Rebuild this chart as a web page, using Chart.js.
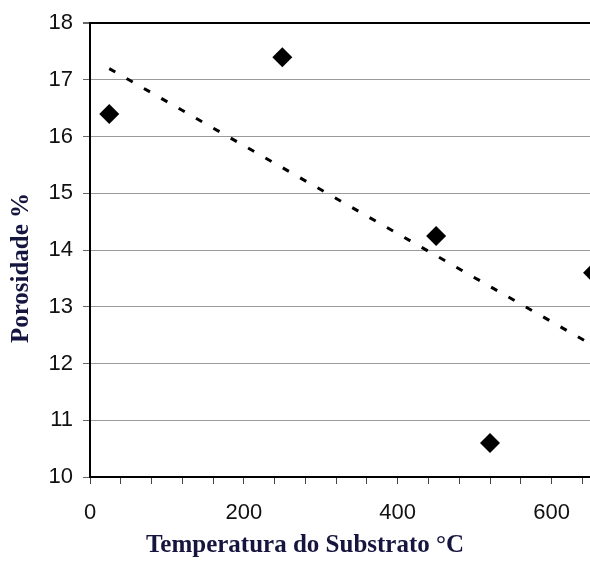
<!DOCTYPE html>
<html>
<head>
<meta charset="utf-8">
<script src="https://cdn.jsdelivr.net/npm/chart.js@4"></script>
<style>
  html, body { margin: 0; padding: 0; background: #fff; overflow: hidden; }
  #myChart { display: block; }
</style>
</head>
<body>
<canvas id="myChart" width="590" height="561"></canvas>
<script>
const temperatura = [25, 250, 450, 520, 654];
const porosidade = [16.4, 17.4, 14.25, 10.6, 13.6];
// linha de tendencia (extremos)
const tendenciaX = [25, 650];
const tendenciaY = [17.2, 12.35];
const xLabels = [0, 200, 400, 600];

const tituloX = 'Temperatura do Substrato \u00B0C';
const tituloY = 'Porosidade %';

const pontos = temperatura.map((t, i) => ({ x: t, y: porosidade[i] }));
const tendencia = tendenciaX.map((t, i) => ({ x: t, y: tendenciaY[i] }));

// titulos dos eixos desenhados a mao pra ficar na mesma posicao do original
const axisTitles = {
    id: 'axisTitles',
    afterDraw(chart) {
        const ctx = chart.ctx;
        ctx.save();
        ctx.fillStyle = '#15153f';
        ctx.font = 'bold 25px "Liberation Serif"';
        ctx.textAlign = 'center';
        ctx.textBaseline = 'middle';
        ctx.fillText(tituloX, 305, 546);
        ctx.translate(22, 268);
        ctx.rotate(-Math.PI / 2);
        ctx.fillText(tituloY, 0, 0);
        ctx.restore();
    }
};

const config = {
    type: 'scatter',
    data: {
        datasets: [
            {
                label: 'Porosidade',
                data: pontos,
                pointStyle: 'rectRot',
                pointRadius: 10,
                pointHoverRadius: 10,
                backgroundColor: '#000',
                borderColor: '#000',
                borderWidth: 0
            },
            {
                label: 'Tendencia',
                data: tendencia,
                showLine: true,
                pointRadius: 0,
                borderColor: '#000',
                borderWidth: 3,
                borderDash: [7, 13]
            }
        ]
    },
    options: {
        responsive: false,
        animation: false,
        layout: { autoPadding: false, padding: { top: 22, right: 0, left: 0, bottom: 0 } },
        plugins: {
            legend: { display: false },
            tooltip: { enabled: false }
        },
        scales: {
            x: {
                type: 'linear',
                min: 0,
                max: 650,
                afterFit: (scale) => {
                    scale.height = 84;
                    scale.paddingLeft = 0;
                    scale.paddingRight = 0;
                },
                border: { color: '#000', width: 2 },
                grid: {
                    drawOnChartArea: false,
                    drawTicks: true,
                    tickLength: 7,
                    tickColor: '#444'
                },
                ticks: {
                    stepSize: 40,
                    includeBounds: false,
                    autoSkip: false,
                    maxRotation: 0,
                    padding: 16,
                    color: '#111',
                    font: { family: '"Liberation Sans", Arial', size: 22 },
                    callback: (v) => xLabels.includes(v) ? String(v) : ''
                }
            },
            y: {
                min: 10,
                max: 18,
                afterFit: (scale) => { scale.width = 90; },
                border: { color: '#000', width: 2 },
                grid: {
                    color: (c) => c.tick && c.tick.value === 18 ? '#000' : '#9a9a9a',
                    lineWidth: (c) => c.tick && c.tick.value === 18 ? 2 : 1,
                    tickLength: 7,
                    tickColor: '#666'
                },
                ticks: {
                    stepSize: 1,
                    padding: 10,
                    color: '#111',
                    font: { family: '"Liberation Sans", Arial', size: 22 }
                }
            }
        }
    },
    plugins: [axisTitles]
};

const myCanvaChart = new Chart(document.getElementById('myChart'), config);
</script>
</body>
</html>
